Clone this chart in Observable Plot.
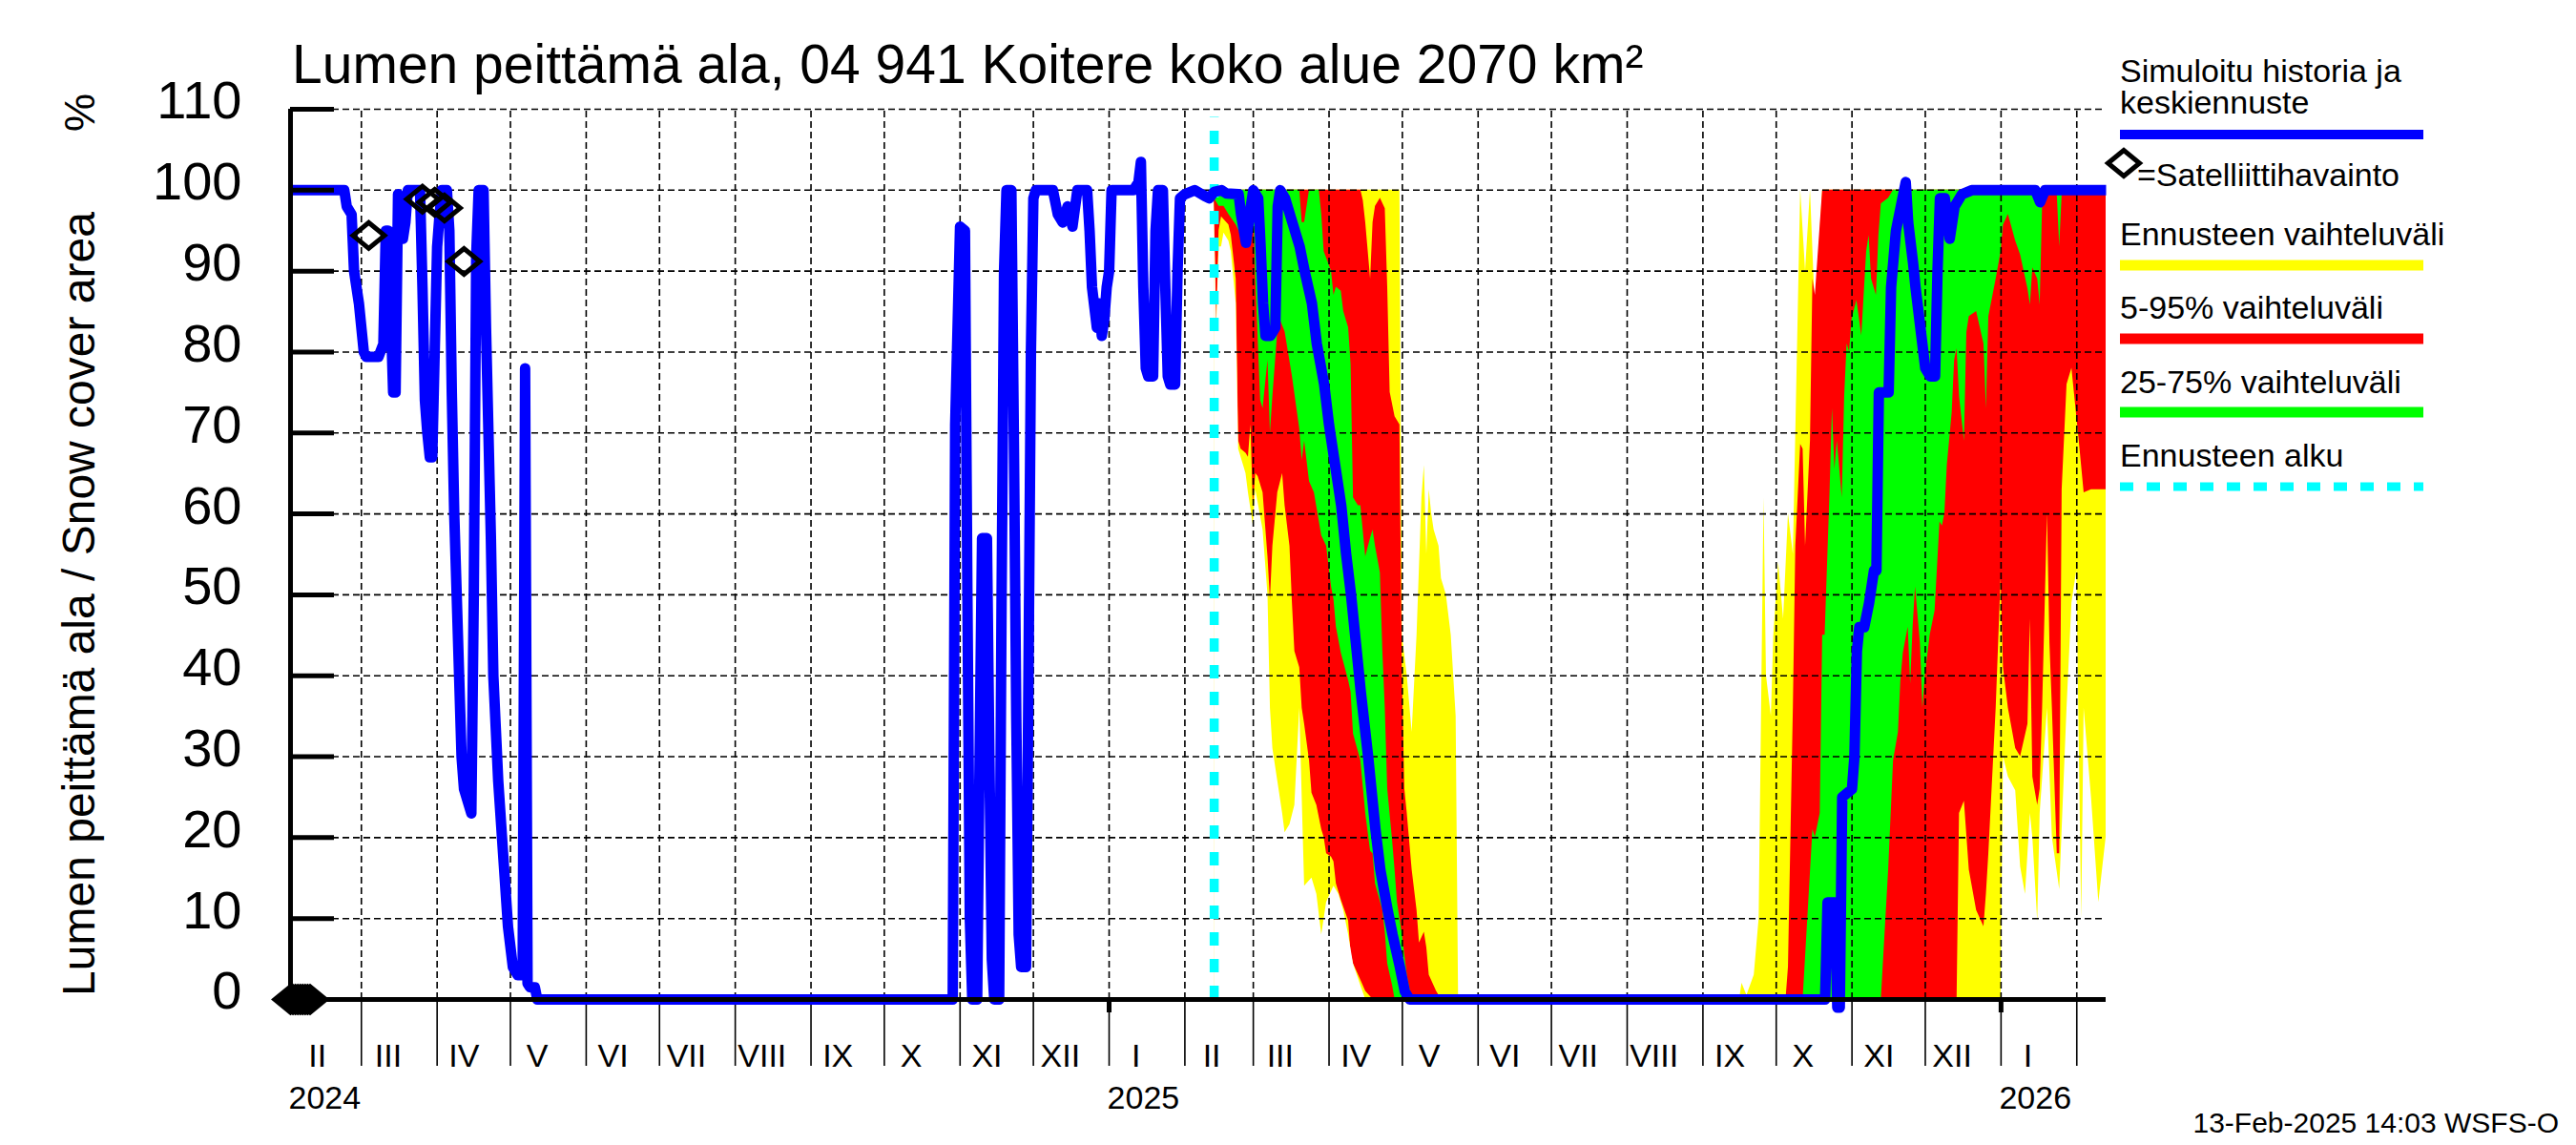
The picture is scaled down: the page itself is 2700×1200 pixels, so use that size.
<!DOCTYPE html>
<html>
<head>
<meta charset="utf-8">
<script src="https://cdn.jsdelivr.net/npm/d3@7"></script>
<script src="https://cdn.jsdelivr.net/npm/@observablehq/plot@0.6"></script>
<style>
  html, body { margin: 0; padding: 0; background: #fff; }
  svg { display: block; }
</style>
</head>
<body>
<div id="chart"></div>
<script>
// ---------------- DATA ----------------
const xStart = "2024-02-01";
const xEnd = "2026-02-13";
const forecastStart = "2025-02-13";

const yTicks = [0, 10, 20, 30, 40, 50, 60, 70, 80, 90, 100, 110];
const monthLabels = ["II","III","IV","V","VI","VII","VIII","IX","X","XI","XII","I","II","III","IV","V","VI","VII","VIII","IX","X","XI","XII","I"];
const yearLabels = ["2024", "2025", "2026"];
const yearLabelMonths = ["2024-02-01", "2025-01-01", "2026-01-01"];

// simulated history (%)
const history = [
["2024-02-01",100],["2024-02-23",100],["2024-02-24",98],["2024-02-26",97],["2024-02-27",90],["2024-02-29",86],
["2024-03-02",80],["2024-03-03",79.4],["2024-03-08",79.4],["2024-03-10",81],["2024-03-11",95],["2024-03-12",95],
["2024-03-13",85],["2024-03-14",75],["2024-03-15",75],["2024-03-16",99.5],["2024-03-17",98],["2024-03-18",94],
["2024-03-19",96],["2024-03-20",100],["2024-03-25",100],["2024-03-26",88],["2024-03-27",74],["2024-03-28",70],
["2024-03-29",67],["2024-03-30",67],["2024-03-31",80],["2024-04-01",93],["2024-04-02",97],["2024-04-03",100],
["2024-04-05",100],["2024-04-06",95],["2024-04-07",75],["2024-04-08",60],["2024-04-09",50],["2024-04-10",40],
["2024-04-11",30],["2024-04-12",26],["2024-04-14",24],["2024-04-15",23],["2024-04-16",50],["2024-04-17",92],
["2024-04-18",100],["2024-04-20",100],["2024-04-21",83],["2024-04-23",57],["2024-04-24",40],["2024-04-26",27],
["2024-04-28",18],["2024-04-30",9],["2024-05-02",4],["2024-05-04",3],["2024-05-06",3],["2024-05-07",78],
["2024-05-08",2],["2024-05-09",1.5],["2024-05-11",1.5],["2024-05-12",0],
["2024-10-29",0],["2024-10-30",71],["2024-11-01",95.5],["2024-11-03",95],["2024-11-04",50],["2024-11-05",10],
["2024-11-06",0],["2024-11-08",0],["2024-11-09",30],["2024-11-10",57],["2024-11-12",57],["2024-11-13",30],
["2024-11-14",5],["2024-11-15",0],["2024-11-17",0],["2024-11-18",50],["2024-11-19",90],["2024-11-20",100],
["2024-11-22",100],["2024-11-23",70],["2024-11-24",35],["2024-11-25",8],["2024-11-26",4],["2024-11-28",4],
["2024-11-29",40],["2024-11-30",80],["2024-12-01",99],["2024-12-02",100],["2024-12-09",100],["2024-12-11",97],
["2024-12-13",96],["2024-12-15",98],["2024-12-17",95.5],["2024-12-19",100],["2024-12-23",100],["2024-12-24",95],
["2024-12-25",88],["2024-12-27",83],["2024-12-28",86],["2024-12-29",82],["2024-12-30",84],["2024-12-31",88],
["2025-01-01",90],["2025-01-02",100],["2025-01-11",100],["2025-01-13",101],["2025-01-14",103.5],["2025-01-15",88],
["2025-01-16",78],["2025-01-17",77],["2025-01-19",77],["2025-01-20",95],["2025-01-21",100],["2025-01-23",100],
["2025-01-24",88],["2025-01-25",77],["2025-01-26",76],["2025-01-28",76],["2025-01-29",90],["2025-01-30",99],
["2025-02-01",99.5],["2025-02-05",100],["2025-02-09",99.3],["2025-02-11",99],["2025-02-13",99.8]
];

// median forecast (%)
const median = [
["2025-02-13",99.8],["2025-02-16",100],["2025-02-18",99.6],["2025-02-23",99.5],["2025-02-24",97],["2025-02-26",93.5],
["2025-02-28",98],["2025-03-01",100],["2025-03-03",99],["2025-03-04",93],["2025-03-05",86],["2025-03-06",82],
["2025-03-08",82],["2025-03-10",83],["2025-03-11",98],["2025-03-12",100],["2025-03-14",99],["2025-03-17",96],
["2025-03-20",93],["2025-03-22",90],["2025-03-25",86],["2025-03-27",81],["2025-03-30",76],["2025-04-01",71],
["2025-04-04",65],["2025-04-06",61],["2025-04-08",55],["2025-04-10",50],["2025-04-12",44],["2025-04-14",38],
["2025-04-17",30],["2025-04-20",21],["2025-04-22",16],["2025-04-25",11],["2025-04-27",8],["2025-04-30",4],
["2025-05-02",1],["2025-05-04",0],
["2025-10-21",0],["2025-10-22",12],["2025-10-25",12],["2025-10-26",-1],["2025-10-27",-1],["2025-10-28",25],
["2025-11-01",26],["2025-11-02",30],["2025-11-03",43],["2025-11-04",46],["2025-11-06",46],["2025-11-08",49],
["2025-11-10",53],["2025-11-11",53],["2025-11-12",75],["2025-11-16",75],["2025-11-17",88],["2025-11-19",95],
["2025-11-21",98],["2025-11-23",101],["2025-11-24",96],["2025-11-26",91],["2025-11-27",88],["2025-11-29",83],
["2025-12-01",78],["2025-12-03",77],["2025-12-05",77],["2025-12-06",90],["2025-12-07",99],["2025-12-09",99],
["2025-12-11",94],["2025-12-13",98],["2025-12-16",99.5],["2025-12-20",100],["2026-01-15",100],["2026-01-17",98.5],
["2026-01-19",100],["2026-02-13",100]
];

// forecast range: maximum
const bandMax = [
["2025-02-13",99.8],["2025-02-14",100],["2025-04-30",100],["2025-05-01",45],["2025-05-03",40],["2025-05-05",33],
["2025-05-07",45],["2025-05-09",62],["2025-05-10",66],["2025-05-11",55],["2025-05-12",63],["2025-05-13",60],
["2025-05-14",58],["2025-05-16",56],["2025-05-17",52],["2025-05-19",50],["2025-05-21",45],["2025-05-23",35],
["2025-05-24",0],
["2025-09-16",0],["2025-09-17",2],["2025-09-19",0.5],["2025-09-22",3],["2025-09-24",10],["2025-09-26",62],
["2025-09-27",40],["2025-09-29",35],["2025-09-30",45],["2025-10-02",54],["2025-10-04",47],["2025-10-06",60],
["2025-10-08",55],["2025-10-09",70],["2025-10-10",85],["2025-10-11",100],["2025-10-13",90],["2025-10-15",100],
["2025-10-17",85],["2025-10-19",95],["2025-10-20",100],["2026-02-13",100]
];
// 95 % limit
const bandP95 = [
["2025-02-13",99.5],["2025-02-14",100],["2025-04-14",100],["2025-04-15",98.7],["2025-04-16",96],["2025-04-18",89],
["2025-04-19",96],["2025-04-20",98],["2025-04-22",99],["2025-04-24",97.7],["2025-04-25",88],["2025-04-26",75],
["2025-04-28",72],["2025-04-30",71],["2025-05-01",40],["2025-05-02",26],["2025-05-03",23],["2025-05-05",16],
["2025-05-07",11],["2025-05-08",7],["2025-05-10",8.3],["2025-05-11",6.4],["2025-05-12",3],["2025-05-15",1],
["2025-05-17",0],
["2025-10-05",0],["2025-10-06",4],["2025-10-08",36],["2025-10-09",56],["2025-10-11",68.6],["2025-10-12",68],
["2025-10-13",56],["2025-10-15",69],["2025-10-16",89],["2025-10-17",87],["2025-10-19",95.7],["2025-10-20",100],
["2026-02-13",100]
];
// 75 % limit
const bandP75 = [
["2025-02-13",99.5],["2025-02-14",100],["2025-03-20",100],["2025-03-21",96],["2025-03-22",96],["2025-03-24",100],
["2025-03-28",100],["2025-03-29",97],["2025-03-30",92.4],["2025-04-02",90],["2025-04-03",87],["2025-04-04",88],
["2025-04-06",87.5],["2025-04-07",85],["2025-04-09",83],["2025-04-10",78.5],["2025-04-11",62],["2025-04-13",61],
["2025-04-14",61],["2025-04-16",54.7],["2025-04-18",57],["2025-04-19",58],["2025-04-20",56],["2025-04-22",52.7],
["2025-04-23",43],["2025-04-24",36],["2025-04-25",26],["2025-04-27",19.6],["2025-04-28",16],["2025-04-29",12],
["2025-05-01",8],["2025-05-03",3],["2025-05-05",0],
["2025-10-12",0],["2025-10-16",21],["2025-10-17",20],["2025-10-19",23],["2025-10-20",45],["2025-10-21",45],
["2025-10-23",62.6],["2025-10-24",73],["2025-10-25",65.5],["2025-10-26",69],["2025-10-28",62],["2025-10-29",74.5],
["2025-10-30",81],["2025-10-31",80],["2025-11-01",84],["2025-11-03",86.4],["2025-11-05",82],["2025-11-07",92.4],
["2025-11-08",94.4],["2025-11-09",89],["2025-11-11",87],["2025-11-12",94.4],["2025-11-13",98.3],["2025-11-16",99],
["2025-11-18",100],["2026-02-13",100]
];
// 25 % limit
const bandP25 = [
["2025-02-13",99],["2025-02-15",98],["2025-02-17",98],["2025-02-19",97],["2025-02-22",95.7],["2025-02-24",94.4],
["2025-02-26",94],["2025-02-28",98],["2025-03-01",99],["2025-03-02",89],["2025-03-04",74],["2025-03-05",73],
["2025-03-07",79],["2025-03-08",70],["2025-03-09",74.5],["2025-03-11",82.5],["2025-03-12",84],["2025-03-14",82.5],
["2025-03-17",77],["2025-03-20",70.5],["2025-03-21",66.6],["2025-03-22",69],["2025-03-24",64],["2025-03-26",62.6],
["2025-03-29",57.3],["2025-03-31",56],["2025-04-02",51],["2025-04-03",49.4],["2025-04-04",46],["2025-04-06",42.8],
["2025-04-09",39.4],["2025-04-10",38],["2025-04-11",32.8],["2025-04-14",29.5],["2025-04-16",23],["2025-04-18",18.3],
["2025-04-19",18],["2025-04-20",14.3],["2025-04-23",11],["2025-04-24",8.3],["2025-04-25",4.4],["2025-04-27",1.7],
["2025-04-28",0],
["2025-11-13",0],["2025-11-16",16],["2025-11-18",29.5],["2025-11-20",33],["2025-11-21",39.4],["2025-11-22",42.8],
["2025-11-24",46],["2025-11-25",39],["2025-11-26",46],["2025-11-27",51],["2025-11-29",44],["2025-11-30",36],
["2025-12-01",40],["2025-12-03",45],["2025-12-05",48],["2025-12-07",59],["2025-12-08",58.5],["2025-12-09",60],
["2025-12-10",66],["2025-12-12",72.5],["2025-12-13",79],["2025-12-14",80.4],["2025-12-15",74.5],["2025-12-17",69],
["2025-12-18",82.4],["2025-12-19",84.4],["2025-12-22",85],["2025-12-25",81],["2025-12-26",73],["2025-12-27",84.4],
["2025-12-30",89],["2026-01-01",92.4],["2026-01-02",95.7],["2026-01-04",97],["2026-01-07",93.7],["2026-01-09",92],
["2026-01-12",87.8],["2026-01-13",85.8],["2026-01-14",90.4],["2026-01-16",89],["2026-01-17",85.8],["2026-01-18",98.3],
["2026-01-20",99.5],["2026-01-24",99.5],["2026-01-25",93],["2026-01-26",99.5],["2026-02-13",99.5]
];
// 5 % limit
const bandP5 = [
["2025-02-13",99],["2025-02-14",83],["2025-02-15",95],["2025-02-16",96.7],["2025-02-19",95.7],["2025-02-20",94.4],
["2025-02-22",89],["2025-02-23",69],["2025-02-24",68],["2025-02-26",67.5],["2025-02-27",67],["2025-02-28",71],
["2025-03-01",61],["2025-03-02",65],["2025-03-03",64.6],["2025-03-05",62.6],["2025-03-07",54.7],["2025-03-08",49.4],
["2025-03-09",56],["2025-03-11",62.6],["2025-03-13",65],["2025-03-14",61],["2025-03-16",56],["2025-03-17",49],
["2025-03-18",43],["2025-03-20",41],["2025-03-21",36],["2025-03-22",34],["2025-03-24",29.5],["2025-03-25",25.5],
["2025-03-27",24],["2025-03-29",21],["2025-03-30",20],["2025-03-31",18],["2025-04-02",17.6],["2025-04-03",17],
["2025-04-04",14.3],["2025-04-06",12.3],["2025-04-09",9.7],["2025-04-10",5.7],["2025-04-11",4.4],["2025-04-14",2.4],
["2025-04-16",1],["2025-04-19",0],
["2025-12-14",0],["2025-12-15",23],["2025-12-17",24.5],["2025-12-19",16],["2025-12-22",11],["2025-12-25",9],
["2025-12-26",13],["2025-12-27",18],["2025-12-30",36],["2026-01-01",52],["2026-01-02",41],["2026-01-04",36],
["2026-01-07",31],["2026-01-09",30],["2026-01-12",34],["2026-01-13",47],["2026-01-14",27.5],["2026-01-16",24],
["2026-01-17",26],["2026-01-18",36],["2026-01-20",60],["2026-01-21",44],["2026-01-22",36],["2026-01-24",18],
["2026-01-25",18],["2026-01-26",63],["2026-01-28",76],["2026-01-30",78],["2026-02-01",72],["2026-02-02",69],
["2026-02-04",62.6],["2026-02-07",63],["2026-02-13",63]
];
// forecast range: minimum
const bandMin = [
["2025-02-13",99],["2025-02-14",83],["2025-02-15",93],["2025-02-16",93],["2025-02-17",94.7],["2025-02-19",93.7],
["2025-02-20",92.4],["2025-02-22",86],["2025-02-23",68],["2025-02-24",67],["2025-02-26",65],["2025-02-27",62.6],
["2025-03-01",58.6],["2025-03-02",63],["2025-03-05",58],["2025-03-07",50],["2025-03-08",36],["2025-03-09",31],
["2025-03-11",27],["2025-03-12",25],["2025-03-13",23],["2025-03-14",20.6],["2025-03-16",21.6],["2025-03-18",24],
["2025-03-20",36],["2025-03-22",14],["2025-03-25",15],["2025-03-27",13],["2025-03-29",8],["2025-03-31",12],
["2025-04-03",14],["2025-04-05",13],["2025-04-07",11],["2025-04-09",8],["2025-04-11",4.4],["2025-04-14",1.7],
["2025-04-16",0],
["2026-01-01",0],["2026-01-02",30],["2026-01-04",27.5],["2026-01-07",25.8],["2026-01-09",16.4],["2026-01-11",13],
["2026-01-13",23],["2026-01-14",20],["2026-01-16",9.7],["2026-01-17",23],["2026-01-20",36],["2026-01-22",20],
["2026-01-25",13.6],["2026-01-28",36],["2026-01-30",49],["2026-02-01",53],["2026-02-03",10],["2026-02-04",36],
["2026-02-07",25],["2026-02-10",12],["2026-02-13",20]
];

// satellite observations (%)
const satellite = [
["2024-02-01",0],["2024-02-02",0],["2024-02-03",0],["2024-02-04",0],["2024-02-05",0],["2024-02-06",0],
["2024-02-07",0],["2024-02-08",0],["2024-02-09",0],
["2024-03-04",94.4],["2024-03-26",98.9],["2024-03-31",98.5],["2024-04-04",97.8],["2024-04-12",91.2]
];

// ---------------- CHART ----------------
const T = s => new Date(s + "T00:00:00Z");
const pt = d => ({date: T(d[0]), value: d[1]});
const blue = "#0000ff", red = "#ff0000", green = "#00ff00", yellow = "#ffff00", cyan = "#00ffff";

const monthStarts = d3.utcMonth.range(T("2024-03-01"), d3.utcDay.offset(T(xEnd), 1));
const labelMonths = d3.utcMonth.range(T(xStart), T("2026-02-01"));
const monthLabelData = labelMonths.map((m, i) => ({date: d3.utcDay.offset(m, 11), label: monthLabels[i]}));
const yearLabelData = yearLabels.map((y, i) => ({date: d3.utcDay.offset(T(yearLabelMonths[i]), 14), label: y}));
const yearStarts = [T("2025-01-01"), T("2026-01-01")];

const wideDiamond = {
  draw(ctx, size) {
    const s = Math.sqrt(size / Math.PI);
    ctx.moveTo(-s * 1.1, 0); ctx.lineTo(0, -s * 0.9); ctx.lineTo(s * 1.1, 0); ctx.lineTo(0, s * 0.9); ctx.closePath();
  }
};

const line = history.map(pt).concat(median.slice(1).map(pt));
const area = (arr, fill) => Plot.areaY(arr.map(pt), {x: "date", y: "value", fill, curve: "linear"});
const font = "'Liberation Sans', Arial, Helvetica, sans-serif";

const svg = Plot.plot({
  width: 2700, height: 1200,
  marginLeft: 304, marginRight: 493, marginTop: 114, marginBottom: 153,
  style: {fontFamily: font, background: "#fff", color: "#000", overflow: "visible"},
  x: {type: "utc", domain: [T(xStart), T(xEnd)], axis: null},
  y: {domain: [0, 110], axis: null},
  marks: [
    area(bandMax, yellow),
    area(bandP95, red),
    area(bandP75, green),
    area(bandP25, red),
    area(bandP5, yellow),
    area(bandMin, "#ffffff"),
    // grid
    Plot.ruleY(yTicks.filter(v => v > 0), {x1: T(xStart), x2: T(xEnd), stroke: "#000", strokeWidth: 1.6, strokeDasharray: "7,4"}),
    Plot.ruleX(monthStarts, {y1: 0, y2: 110, stroke: "#000", strokeWidth: 1.6, strokeDasharray: "7,4"}),
    // month ticks below axis
    Plot.axisX(monthStarts, {tickSize: 70, tickFormat: () => "", stroke: "#000", strokeWidth: 1.6}),
    Plot.axisX(yearStarts, {tickSize: 14, tickFormat: () => "", stroke: "#000", strokeWidth: 5}),
    // forecast start
    Plot.ruleX([T(forecastStart)], {y1: 0, y2: 109, stroke: cyan, strokeWidth: 9.5, strokeDasharray: "14,14"}),
    // history + median
    Plot.line(line, {x: "date", y: "value", stroke: blue, strokeWidth: 11, strokeLinejoin: "round", strokeLinecap: "butt", curve: "linear"}),
    // satellite
    Plot.dot(satellite.map(pt), {x: "date", y: "value", r: 15, symbol: wideDiamond, stroke: "#000", strokeWidth: 5, fill: "none"}),
    // axes
    Plot.ruleY([0], {stroke: "#000", strokeWidth: 5}),
    Plot.ruleX([T(xStart)], {y1: 0, y2: 110, stroke: "#000", strokeWidth: 5}),
    Plot.axisY(yTicks.filter(v => v > 0), {tickSize: 46, dx: 46, tickFormat: () => "", stroke: "#000", strokeWidth: 5, label: null}),
    Plot.axisY(yTicks, {tickSize: 0, tickPadding: 51, dy: -8, fontSize: 56, label: null, fill: "#000"}),
    // month and year labels
    Plot.text(monthLabelData, {x: "date", text: "label", frameAnchor: "bottom", dy: 70, fontSize: 34, fill: "#000"}),
    Plot.text(yearLabelData, {x: "date", text: "label", frameAnchor: "bottom", dy: 114, fontSize: 34, fill: "#000"})
  ]
});

const s = d3.select(svg);
const addText = (x, y, txt, size, anchor = "start") =>
  s.append("text").attr("x", x).attr("y", y).attr("font-size", size).attr("font-family", font)
   .attr("text-anchor", anchor).attr("fill", "#000").text(txt);

addText(306, 87, "Lumen peittämä ala, 04 941 Koitere koko alue 2070 km²", 57);
s.append("text").attr("transform", "translate(99,633) rotate(-90)").attr("text-anchor", "middle")
  .attr("font-size", 48).attr("font-family", font).text("Lumen peittämä ala / Snow cover area");
s.append("text").attr("transform", "translate(99,118) rotate(-90)").attr("text-anchor", "middle")
  .attr("font-size", 45).attr("font-family", font).text("%");

// legend
const lx = 2222, lx2 = 2540, lf = 34;
addText(lx, 86, "Simuloitu historia ja", lf);
addText(lx, 119, "keskiennuste", lf);
s.append("line").attr("x1", lx).attr("x2", lx2).attr("y1", 141).attr("y2", 141).attr("stroke", blue).attr("stroke-width", 10);
s.append("path").attr("d", d3.symbol(wideDiamond, 225 * Math.PI)()).attr("transform", "translate(2226,171)")
  .attr("fill", "none").attr("stroke", "#000").attr("stroke-width", 5);
addText(2240, 195, "=Satelliittihavainto", lf);
addText(lx, 257, "Ennusteen vaihteluväli", lf);
s.append("line").attr("x1", lx).attr("x2", lx2).attr("y1", 278).attr("y2", 278).attr("stroke", yellow).attr("stroke-width", 11);
addText(lx, 334, "5-95% vaihteluväli", lf);
s.append("line").attr("x1", lx).attr("x2", lx2).attr("y1", 355).attr("y2", 355).attr("stroke", red).attr("stroke-width", 11);
addText(lx, 412, "25-75% vaihteluväli", lf);
s.append("line").attr("x1", lx).attr("x2", lx2).attr("y1", 432).attr("y2", 432).attr("stroke", green).attr("stroke-width", 11);
addText(lx, 489, "Ennusteen alku", lf);
s.append("line").attr("x1", lx).attr("x2", lx2).attr("y1", 510).attr("y2", 510).attr("stroke", cyan).attr("stroke-width", 9).attr("stroke-dasharray", "14,14");

addText(2682, 1187, "13-Feb-2025 14:03 WSFS-O", 30, "end");

document.getElementById("chart").appendChild(svg);
</script>
</body>
</html>
